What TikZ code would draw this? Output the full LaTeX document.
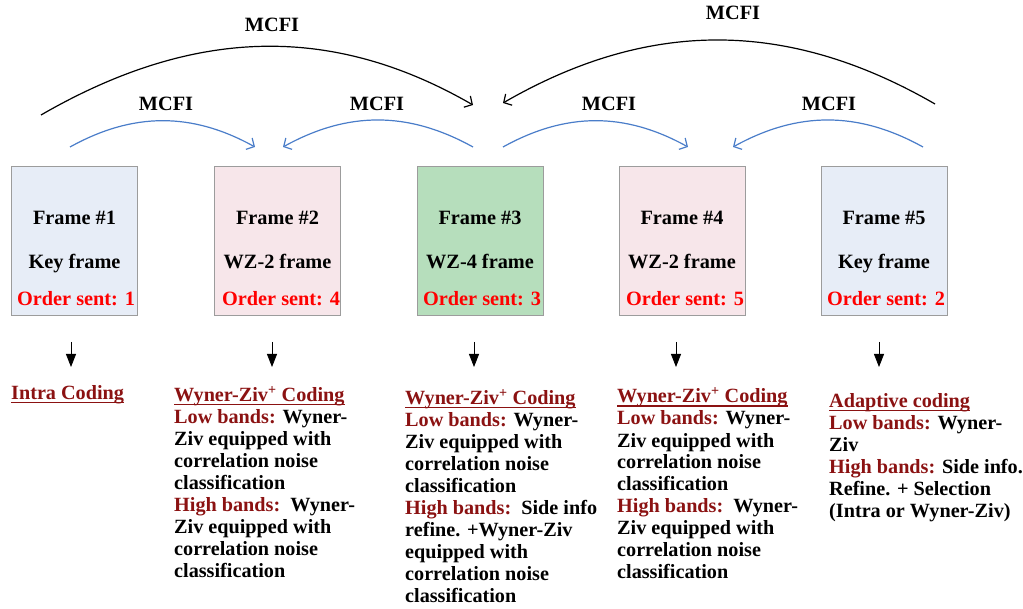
\documentclass[tikz,border=0pt]{standalone}
\usepackage{fontspec}
\setmainfont{Liberation Serif}
\usetikzlibrary{arrows.meta}
\definecolor{keyfill}{HTML}{E7EDF7}
\definecolor{wzfill}{HTML}{F7E6EA}
\definecolor{gfill}{HTML}{B6DEBC}
\definecolor{bordergray}{HTML}{9C9C9C}
\definecolor{arcblue}{HTML}{4A7DC9}
\definecolor{dred}{HTML}{8B1212}
\definecolor{ordred}{HTML}{FF0000}
\newcommand\myul[1]{\setbox0\hbox{#1}\rlap{\rule[-3.5pt]{\wd0}{1.5pt}}\box0}
\newcommand\hb[1]{\textcolor{dred}{#1}}
\tikzset{
  framebox/.style={draw=bordergray, line width=0.9pt, minimum width=126pt, minimum height=148.5pt, inner sep=0pt},
  btxt/.style={font=\fontsize{20.3}{22}\selectfont\bfseries, inner sep=0pt, anchor=base},
  ordtxt/.style={btxt, text=ordred},
  coltxt/.style={font=\fontsize{20.2}{22}\selectfont\bfseries, inner sep=0pt, anchor=base west},
  bigarc/.style={draw=black, line width=1.2pt, -{Straight Barb[length=6pt,width=13pt]}},
  smallarc/.style={draw=arcblue, line width=1.2pt, -{Straight Barb[length=6pt,width=13pt]}},
  downarrow/.style={draw=black, line width=0.8pt, -{Triangle[length=13pt,width=10pt]}}
}
\begin{document}
\begin{tikzpicture}[x=1pt,y=1pt]
\useasboundingbox (0,0) rectangle (1023,-609);

% frame boxes
\node[framebox, fill=keyfill] (b1) at (74.5,-240.75) {};
\node[framebox, fill=wzfill]  (b2) at (277.5,-240.75) {};
\node[framebox, fill=gfill]   (b3) at (480,-240.75) {};
\node[framebox, fill=wzfill]  (b4) at (682,-240.75) {};
\node[framebox, fill=keyfill] (b5) at (884,-240.75) {};

% box texts
\node[btxt] (f1a) at (74.5,-225) {Frame \#1};
\node[btxt] (f1b) at (74.5,-269) {Key frame};
\node[ordtxt] (f1c) at (76,-306) {Order sent: 1};
\node[btxt] (f2a) at (277.5,-225) {Frame \#2};
\node[btxt] (f2b) at (277.5,-269) {WZ-2 frame};
\node[ordtxt] (f2c) at (281,-306) {Order sent: 4};
\node[btxt] (f3a) at (480,-225) {Frame \#3};
\node[btxt] (f3b) at (480,-269) {WZ-4 frame};
\node[ordtxt] (f3c) at (482,-306) {Order sent: 3};
\node[btxt] (f4a) at (682,-225) {Frame \#4};
\node[btxt] (f4b) at (682,-269) {WZ-2 frame};
\node[ordtxt] (f4c) at (685,-306) {Order sent: 5};
\node[btxt] (f5a) at (884,-225) {Frame \#5};
\node[btxt] (f5b) at (884,-269) {Key frame};
\node[ordtxt] (f5c) at (886,-306) {Order sent: 2};

% arc end points
\coordinate (A1s) at (41,-115);
\coordinate (A1e) at (473,-105);
\coordinate (A2s) at (935,-104);
\coordinate (A2e) at (503,-103);
\coordinate (a1s) at (70,-147);
\coordinate (a1e) at (255,-147);
\coordinate (a2s) at (473,-147);
\coordinate (a2e) at (283,-147);
\coordinate (a3s) at (503,-147);
\coordinate (a3e) at (688,-147);
\coordinate (a4s) at (923,-147);
\coordinate (a4e) at (733,-147);

\draw[bigarc] (A1s) to[out=30,in=150] (A1e);
\draw[bigarc] (A2s) to[out=150,in=30] (A2e);
\draw[smallarc] (a1s) to[out=29,in=151] (a1e);
\draw[smallarc] (a2s) to[out=151,in=29] (a2e);
\draw[smallarc] (a3s) to[out=29,in=151] (a3e);
\draw[smallarc] (a4s) to[out=151,in=29] (a4e);

% MCFI labels
\node[btxt] (m1) at (272,-32) {MCFI};
\node[btxt] (m2) at (733,-20) {MCFI};
\node[btxt] (m3) at (166,-111) {MCFI};
\node[btxt] (m4) at (377,-111) {MCFI};
\node[btxt] (m5) at (609,-111) {MCFI};
\node[btxt] (m6) at (829,-111) {MCFI};

% down arrows
\coordinate (d1s) at (71,-342);  \coordinate (d1e) at (71,-367);
\coordinate (d2s) at (272,-342); \coordinate (d2e) at (272,-367);
\coordinate (d3s) at (474,-342); \coordinate (d3e) at (474,-367);
\coordinate (d4s) at (676,-342); \coordinate (d4e) at (676,-367);
\coordinate (d5s) at (879,-342); \coordinate (d5e) at (879,-367);
\draw[downarrow] (d1s) -- (d1e);
\draw[downarrow] (d2s) -- (d2e);
\draw[downarrow] (d3s) -- (d3e);
\draw[downarrow] (d4s) -- (d4e);
\draw[downarrow] (d5s) -- (d5e);

% coding descriptions
\node[coltxt] (t1) at (11,-400) {\begin{tabular}[t]{@{}l@{}}\hb{\myul{Intra Coding}}\end{tabular}};
\node[coltxt] (t2) at (174,-402) {\begin{tabular}[t]{@{}l@{}}
\hb{\myul{Wyner-Ziv\textsuperscript{+} Coding}}\\
\hb{Low bands:} Wyner-\\
Ziv equipped with\\
correlation noise\\
classification\\
\hb{High bands:}\ \ Wyner-\\
Ziv equipped with\\
correlation noise\\
classification
\end{tabular}};
\node[coltxt] (t3) at (405,-405) {\begin{tabular}[t]{@{}l@{}}
\hb{\myul{Wyner-Ziv\textsuperscript{+} Coding}}\\
\hb{Low bands:} Wyner-\\
Ziv equipped with\\
correlation noise\\
classification\\
\hb{High bands:}\ \ Side info\\
refine. +Wyner-Ziv\\
equipped with\\
correlation noise\\
classification
\end{tabular}};
\node[coltxt] (t4) at (617,-403) {\begin{tabular}[t]{@{}l@{}}
\hb{\myul{Wyner-Ziv\textsuperscript{+} Coding}}\\
\hb{Low bands:} Wyner-\\
Ziv equipped with\\
correlation noise\\
classification\\
\hb{High bands:}\ \ Wyner-\\
Ziv equipped with\\
correlation noise\\
classification
\end{tabular}};
\node[coltxt] (t5) at (829,-408) {\begin{tabular}[t]{@{}l@{}}
\hb{\myul{Adaptive coding}}\\
\hb{Low bands:} Wyner-\\
Ziv\\
\hb{High bands:} Side info.\\
Refine. + Selection\\
(Intra or Wyner-Ziv)
\end{tabular}};
\end{tikzpicture}
\end{document}
